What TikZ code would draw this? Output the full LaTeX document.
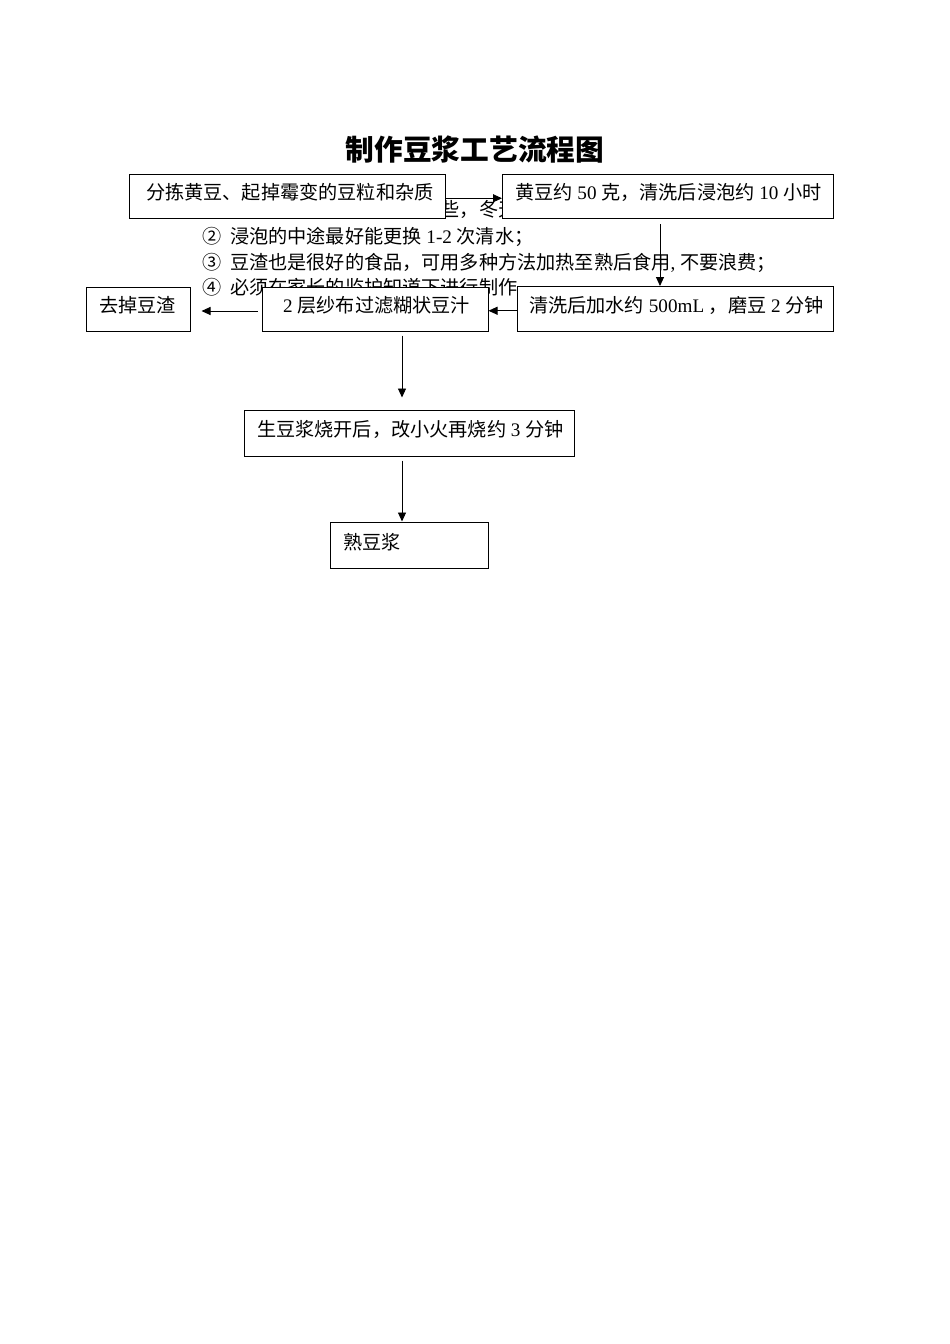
\documentclass[tikz,border=0pt]{standalone}
\usepackage{fontspec}
\setmainfont{Noto Sans CJK SC}
\newfontfamily\latn{Liberation Serif}
\usetikzlibrary{arrows.meta,calc}
\newcommand\bodyfs{\fontsize{19.15}{23}\selectfont}
\newcommand\titlefs{\fontsize{28.7}{34}\selectfont\bfseries}
\tikzset{
  box/.style={draw, fill=white, line width=1pt, inner sep=0pt},
  txt/.style={anchor=base west, inner sep=0pt, font=\bodyfs},
  note/.style={anchor=base west, inner sep=0pt, font=\bodyfs},
  arr/.style={draw, line width=0.9pt, -{Triangle[length=9pt,width=8pt]}},
  ttl/.style={inner sep=0pt, font=\titlefs}
}
\begin{document}
\begin{tikzpicture}[x=1pt,y=-1pt]
\useasboundingbox[fill=white] (0,0) rectangle (950,1344);
% title
\node[ttl] (title) at (475,150) {制作豆浆工艺流程图};
% notes in the background
\node[note] (n1) at (202,216) {\makebox[28pt][l]{①}黄豆浸泡时间夏天可以短些，冬天可以长些；};
\node[note] (n2) at (202,243.5) {\makebox[28pt][l]{②}浸泡的中途最好能更换{\latn\ 1-2\ }次清水；};
\node[note] (n3) at (202,269) {\makebox[28pt][l]{③}豆渣也是很好的食品，可用多种方法加热至熟后食用{\latn,\ }不要浪费；};
\node[note] (n4) at (202,294.5) {\makebox[28pt][l]{④}必须在家长的监护知道下进行制作};
% boxes
\node[box, minimum width=316pt, minimum height=44.5pt] (b1) at (287,196.25) {};
\node[box, minimum width=330.5pt, minimum height=44pt] (b2) at (667.75,196.5) {};
\node[box, minimum width=104pt, minimum height=44pt] (b3) at (138,309) {};
\node[box, minimum width=226pt, minimum height=44pt] (b4) at (375,309) {};
\node[box, minimum width=316pt, minimum height=44.5pt] (b5) at (675,308.75) {};
\node[box, minimum width=330pt, minimum height=46pt] (b6) at (409,433) {};
\node[box, minimum width=158pt, minimum height=46pt] (b7) at (409,545) {};
% box texts
\node[txt] (t1) at (146,199) {分拣黄豆、起掉霉变的豆粒和杂质};
\node[txt] (t2) at (515,199) {黄豆约{\latn\ 50\ }克，清洗后浸泡约{\latn\ 10\ }小时};
\node[txt] (t3) at (99,312) {去掉豆渣};
\node[txt] (t4) at (283,312) {{\latn 2\ }层纱布过滤糊状豆汁};
\node[txt] (t5) at (529,312) {清洗后加水约{\latn\ 500mL\ }，磨豆{\latn\ 2\ }分钟};
\node[txt] (t6) at (257,436.5) {生豆浆烧开后，改小火再烧约{\latn\ 3\ }分钟};
\node[txt] (t7) at (343,549) {熟豆浆};
% connectors
\coordinate (c2) at (660,0);
\coordinate (c5) at (402,0);
\draw[arr] ([yshift=-2pt]b1.east) -- ([yshift=-2pt]b1.east -| b2.west);
\draw[arr] ([yshift=-5pt]b2.south -| c2) -- (b5.north -| c2);
\draw[arr] ([yshift=-2pt]b5.west) -- ([yshift=-2pt]b5.west -| b4.east);
\draw[arr] ([xshift=-4pt,yshift=-2pt]b4.west) -- ([xshift=11pt,yshift=-2pt]b3.east);
\draw[arr] ([yshift=-4pt]b4.south -| c5) -- ([yshift=12pt]b6.north -| c5);
\draw[arr] ([yshift=-4pt]b6.south -| c5) -- (b7.north -| c5);
\end{tikzpicture}
\end{document}
